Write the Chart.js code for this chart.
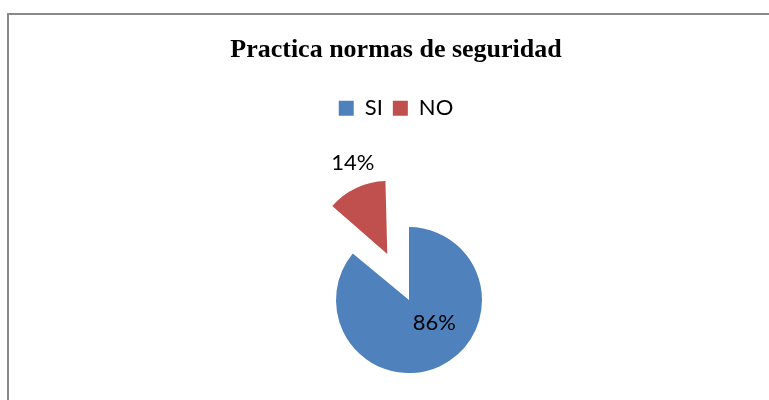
<!DOCTYPE html>
<html>
<head>
<meta charset="utf-8">
<script src="https://cdn.jsdelivr.net/npm/chart.js@4.4.1/dist/chart.umd.min.js"></script>
<style>
    html, body { margin: 0; padding: 0; background: #fff; overflow: hidden; }
    .frame { position: absolute; left: 7px; top: 13px; width: 800px; height: 480px; border: 2px solid #898989; }
    canvas { display: block; }
</style>
</head>
<body>
<div class="frame"><canvas id="chart" width="774" height="456"></canvas></div>
<script>
const TITLE = 'Practica normas de seguridad';
const CATEGORIES = ['SI', 'NO'];
const VALUES = [86, 14];

const BLUE = '#4F81BD';
const RED = '#C0504D';
const PIE_RADIUS = 73;
// desplazamiento de cada porción (Chart.js traslada offset / 4)
const EXPLODE = [0, 204];
// ubicación de las etiquetas: giro respecto al centro de la porción y distancia relativa al radio
const LABEL_PLACE = [
    { turn: -0.387, radial: 0.47 },
    { turn: 0.05, radial: 1.33 },
];

const total = VALUES.reduce((a, b) => a + b, 0);
const percentLabels = VALUES.map((v) => `${Math.round((v / total) * 100)}%`);

// caja vacía a la izquierda: corre el área del gráfico sin mover título ni leyenda
const leftSpacer = {
    id: 'leftSpacer',
    beforeInit(chart) {
        Chart.layouts.addBox(chart, {
            position: 'left',
            weight: 0,
            fullSize: false,
            options: {},
            width: 0,
            height: 0,
            isHorizontal() { return false; },
            update(maxWidth, maxHeight) {
                this.width = 26;
                this.height = maxHeight;
            },
            draw() {},
        });
    },
};

const sliceLabels = {
    id: 'sliceLabels',
    afterDatasetsUpdate(chart) {
        // Chart.js agranda el radio del arco desplazado; se deja igual que el resto
        chart.getDatasetMeta(0).data.forEach((arc, i) => {
            const fix = 1 - Math.sin(Math.min(Math.PI, arc.circumference));
            arc.outerRadius -= (EXPLODE[i] / 4) * fix;
        });
    },
    afterDatasetsDraw(chart) {
        const { ctx } = chart;
        ctx.save();
        ctx.font = '22px Lato';
        ctx.fillStyle = '#000';
        ctx.textAlign = 'center';
        ctx.textBaseline = 'middle';
        chart.getDatasetMeta(0).data.forEach((arc, i) => {
            const place = LABEL_PLACE[i];
            const mid = (arc.startAngle + arc.endAngle) / 2 + place.turn;
            const dist = EXPLODE[i] / 4 + PIE_RADIUS * place.radial;
            ctx.fillText(percentLabels[i], arc.x + Math.cos(mid) * dist, arc.y + Math.sin(mid) * dist);
        });
        ctx.restore();
    },
};

new Chart(document.getElementById('chart'), {
    type: 'pie',
    data: {
        labels: CATEGORIES,
        datasets: [{
            data: VALUES,
            backgroundColor: [BLUE, RED],
            borderWidth: 0,
            offset: EXPLODE,
        }],
    },
    options: {
        responsive: false,
        animation: false,
        events: [],
        radius: PIE_RADIUS,
        layout: { padding: 0 },
        plugins: {
            title: {
                display: true,
                text: TITLE,
                color: '#000',
                font: { family: 'Liberation Serif', size: 26, weight: 'bold' },
                padding: { top: 20, bottom: 21 },
            },
            legend: {
                position: 'top',
                labels: {
                    boxWidth: 15,
                    boxHeight: 15,
                    padding: 10,
                    color: '#000',
                    font: { family: 'Lato', size: 22 },
                },
            },
            tooltip: { enabled: false },
        },
    },
    plugins: [leftSpacer, sliceLabels],
});
</script>
</body>
</html>
